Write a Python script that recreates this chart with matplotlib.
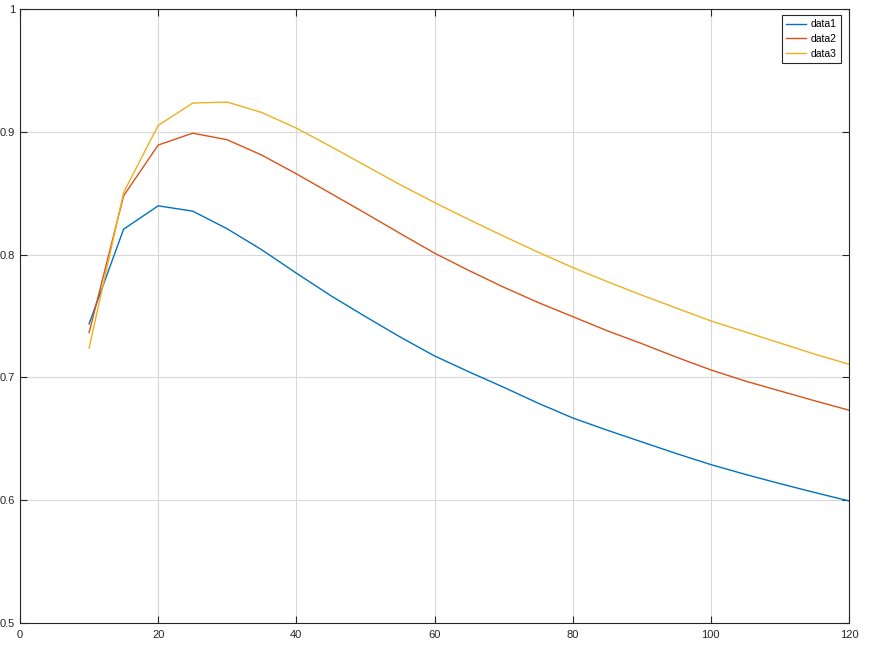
import matplotlib
matplotlib.use('Agg')
import matplotlib.pyplot as plt

plt.rcParams['font.family'] = ['Liberation Sans', 'DejaVu Sans']

# x positions every 5 units
x = [10, 15, 20, 25, 30, 35, 40, 45, 50, 55, 60, 65,
     70, 75, 80, 85, 90, 95, 100, 105, 110, 115, 120]

data1 = [0.7436, 0.8207, 0.8397, 0.8354, 0.8210, 0.8039, 0.7849, 0.7665,
         0.7495, 0.7330, 0.7175, 0.7045, 0.6920, 0.6790, 0.6670, 0.6570,
         0.6475, 0.6380, 0.6290, 0.6210, 0.6135, 0.6063, 0.5994]
data2 = [0.7365, 0.8479, 0.8892, 0.8989, 0.8935, 0.8810, 0.8658, 0.8498,
         0.8337, 0.8173, 0.8012, 0.7870, 0.7735, 0.7610, 0.7495, 0.7380,
         0.7275, 0.7165, 0.7061, 0.6970, 0.6890, 0.6810, 0.6733]
data3 = [0.7238, 0.8506, 0.9052, 0.9234, 0.9242, 0.9157, 0.9030, 0.8880,
         0.8725, 0.8570, 0.8424, 0.8285, 0.8150, 0.8020, 0.7895, 0.7780,
         0.7670, 0.7565, 0.7460, 0.7370, 0.7280, 0.7190, 0.7107]

labels = ['data1', 'data2', 'data3']
colors = ['#0072BD', '#D95319', '#EDB120']

fig = plt.figure(figsize=(8.69, 6.5), dpi=100)
ax = fig.add_axes([20/869, 27/650, 829/869, 614/650])

for y, lab, c in zip([data1, data2, data3], labels, colors):
    ax.plot(x, y, color=c, linewidth=1.0, label=lab)

ax.set_xlim(0, 120)
ax.set_ylim(0.5, 1.0)
ax.set_xticks([0, 20, 40, 60, 80, 100, 120])
ax.set_yticks([0.5, 0.6, 0.7, 0.8, 0.9, 1.0])
ax.set_yticklabels(['0.5', '0.6', '0.7', '0.8', '0.9', '1'])
ax.grid(True, color='#d9d9d9', linewidth=0.8)
ax.set_axisbelow(True)
ax.tick_params(direction='in', length=5, width=0.8, top=True, right=True,
               labelsize=8, colors='#262626', labelcolor='#262626')
ax.tick_params(axis='x', pad=5)
for s in ax.spines.values():
    s.set_color('#262626')
    s.set_linewidth(0.8)

leg = ax.legend(loc='upper right', fontsize=7.5, fancybox=False, framealpha=1,
                edgecolor='#262626', handlelength=1.9, handletextpad=0.45,
                borderpad=0.4, labelspacing=0.45, borderaxespad=0,
                bbox_to_anchor=(0.990, 0.990))
leg.get_frame().set_linewidth(0.8)

plt.savefig('out.png', dpi=100)
